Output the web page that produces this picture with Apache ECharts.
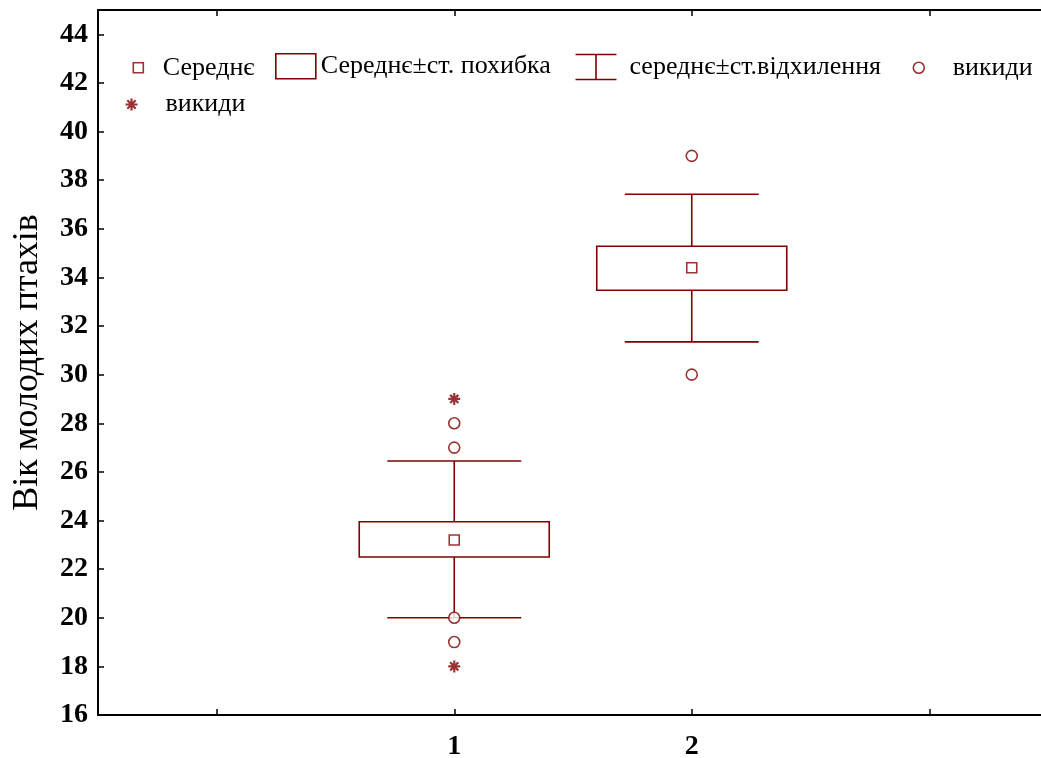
<!DOCTYPE html>
<html><head><meta charset="utf-8">
<script src="https://cdn.jsdelivr.net/npm/echarts@6/dist/echarts.min.js"></script>
<style>html,body{margin:0;padding:0;background:#fff}#c{width:1041px;height:758px}</style>
</head><body><div id="c"></div>
<script>
// ---- data ----
const categories = ['', '1', '2', ''];
const groupIndex = [1, 2];
const means = [23.2, 34.4];
const seLow = [22.5, 33.47];
const seHigh = [23.95, 35.28];
const sdLow = [20.0, 31.35];
const sdHigh = [26.45, 37.42];
const outlierGroup = [1, 1, 1, 1, 2, 2];
const outlierValue = [27, 28, 20, 19, 39, 30];
const extremeGroup = [1, 1];
const extremeValue = [29, 18];
const yMin = 16, yMax = 45, yInterval = 2;
const yTitle = 'Вік молодих птахів';
const names = {
  mean: 'Середнє',
  se: 'Середнє±ст. похибка',
  sd: 'середнє±ст.відхилення',
  outliers: 'викиди',
  extremes: 'викиди'
};

const RED = '#800000';
const FONT = '"Liberation Serif", "Times New Roman", serif';

const chart = echarts.init(document.getElementById('c'), null, {renderer: 'canvas'});

function renderBox(params, api) {
  const x = api.value(0), lo = api.value(1), hi = api.value(2);
  const p1 = api.coord([x, hi]), p2 = api.coord([x, lo]);
  const w = api.size([1, 0])[0] * 0.8;
  return {type: 'rect', shape: {x: p1[0] - w / 2, y: p1[1], width: w, height: p2[1] - p1[1]},
    style: {fill: '#fff', stroke: RED, lineWidth: 1.6}};
}
function renderWhisker(params, api) {
  const x = api.value(0);
  const a = api.coord([x, api.value(1)]);
  const b = api.coord([x, api.value(2)]);
  const c = api.coord([x, api.value(3)]);
  const d = api.coord([x, api.value(4)]);
  const hw = api.size([1, 0])[0] * 0.282;
  const st = {stroke: RED, lineWidth: 1.6};
  return {type: 'group', children: [
    {type: 'line', shape: {x1: a[0] - hw, y1: a[1], x2: a[0] + hw, y2: a[1]}, style: st},
    {type: 'line', shape: {x1: d[0] - hw, y1: d[1], x2: d[0] + hw, y2: d[1]}, style: st},
    {type: 'line', shape: {x1: a[0], y1: a[1], x2: b[0], y2: b[1]}, style: st},
    {type: 'line', shape: {x1: c[0], y1: c[1], x2: d[0], y2: d[1]}, style: st}
  ]};
}

const starPath = 'path://M0 5 L10 5 M5 0 L5 10 M1.6 1.6 L8.4 8.4 M8.4 1.6 L1.6 8.4';

const legendText = {fontFamily: FONT, fontSize: 26, color: '#000'};
function mkLegend(key, left, top, itemWidth, icon, itemStyle) {
  return {
    left: left, top: top, padding: 0, itemWidth: itemWidth, itemHeight: 25, itemGap: 0,
    selectedMode: false, textStyle: legendText,
    formatter: function () { return names[key]; },
    data: [{name: key, icon: icon, itemStyle: itemStyle}]
  };
}
const hollow = {color: '#fff', borderColor: RED, borderWidth: 1.6};

const option = {
  animation: false,
  backgroundColor: '#fff',
  grid: {left: 98, top: 10, width: 950, bottom: 43, containLabel: false, outerBoundsMode: 'none'},
  legend: [
    mkLegend('mean', 117, 54.5, 40, 'path://M0 0 M40 25 M15.5 7.5 L25.5 7.5 L25.5 17.5 L15.5 17.5 Z', hollow),
    mkLegend('se', 275, 53, 40, 'rect', hollow),
    mkLegend('sd', 573, 52, 49, 'path://M0 0 L41 0 M20.5 0 L20.5 25 M0 25 L41 25 M49 25', {color: 'none', borderColor: RED, borderWidth: 1.6}),
    mkLegend('outliers', 907, 54.5, 40, 'path://M0 0 M40 25 M5.5 12.5 A5.5 5.5 0 1 0 16.5 12.5 A5.5 5.5 0 1 0 5.5 12.5 Z', hollow),
    mkLegend('extremes', 118, 89.5, 40, 'path://M0 0 M40 25 M5 12.5 L17 12.5 M11 6.5 L11 18.5 M6.8 8.3 L15.2 16.7 M15.2 8.3 L6.8 16.7', {color: 'none', borderColor: RED, borderWidth: 2.2})
  ],
  xAxis: [{
    type: 'category', data: categories, boundaryGap: true, position: 'bottom',
    axisLine: {show: true, lineStyle: {color: '#000', width: 2}},
    axisTick: {show: true, inside: true, alignWithLabel: true, length: 6, lineStyle: {color: '#000', width: 1.5}},
    axisLabel: {fontFamily: FONT, fontSize: 28, fontWeight: 'bold', color: '#000', margin: 18},
    splitLine: {show: false}
  }, {
    type: 'category', data: categories, boundaryGap: true, position: 'top',
    axisLine: {show: true, lineStyle: {color: '#000', width: 2}},
    axisTick: {show: true, inside: true, alignWithLabel: true, length: 6, lineStyle: {color: '#000', width: 1.5}},
    axisLabel: {show: false}, splitLine: {show: false}
  }],
  yAxis: {
    type: 'value', min: yMin, max: yMax, interval: yInterval,
    name: yTitle, nameLocation: 'middle', nameGap: 52, nameRotate: 90,
    nameTextStyle: {fontFamily: FONT, fontSize: 36, color: '#000'},
    axisLine: {show: true, lineStyle: {color: '#000', width: 2}},
    axisTick: {show: true, inside: true, length: 6, lineStyle: {color: '#000', width: 1.5}},
    axisLabel: {fontFamily: FONT, fontSize: 28, fontWeight: 'bold', color: '#000', margin: 10,
      formatter: function (v) { return v === yMax ? '' : String(v); }},
    splitLine: {show: false}
  },
  series: [
    {name: 'sd', type: 'custom', renderItem: renderWhisker, z: 2,
      encode: {x: 0, y: [1, 2, 3, 4]},
      data: groupIndex.map((g, i) => [g, sdLow[i], seLow[i], seHigh[i], sdHigh[i]])},
    {name: 'se', type: 'custom', renderItem: renderBox, z: 3,
      encode: {x: 0, y: [1, 2]},
      data: groupIndex.map((g, i) => [g, seLow[i], seHigh[i]])},
    {name: 'mean', type: 'scatter', symbol: 'rect', symbolSize: 10, z: 4,
      itemStyle: {color: '#fff', borderColor: RED, borderWidth: 1.6},
      data: groupIndex.map((g, i) => [g, means[i]])},
    {name: 'outliers', type: 'scatter', symbol: 'circle', symbolSize: 11, z: 5,
      itemStyle: {color: '#fff', borderColor: RED, borderWidth: 1.6},
      data: outlierGroup.map((g, i) => [g, outlierValue[i]])},
    {name: 'extremes', type: 'scatter', symbol: starPath, symbolSize: 12, z: 5,
      itemStyle: {color: 'none', borderColor: RED, borderWidth: 2.2},
      data: extremeGroup.map((g, i) => [g, extremeValue[i]])}
  ]
};
chart.setOption(option);
</script></body></html>
